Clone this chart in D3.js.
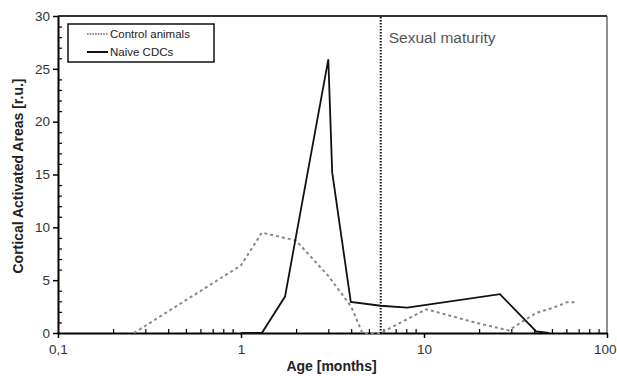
<!DOCTYPE html>
<html>
<head>
<meta charset="utf-8">
<script src="https://cdn.jsdelivr.net/npm/d3@7"></script>
<style>
  body { margin: 0; background: #fff; }
  svg { display: block; font-family: "Liberation Sans", Arial, sans-serif; }
</style>
</head>
<body>
<div id="chart"></div>
<script>
// series (age in months, value in r.u.)
const controlAge = [0.26, 1.0, 1.3, 2.0, 3.0, 4.0, 4.6, 5.8, 10.3, 19.4, 29, 41, 51, 60, 68];
const controlVal = [0, 6.4, 9.5, 8.75, 5.4, 2.5, 0, 0, 2.25, 0.95, 0.25, 1.9, 2.4, 2.9, 2.9];
const naiveAge = [1.0, 1.3, 1.74, 3.0, 3.15, 3.98, 5.8, 8.1, 26, 41, 48];
const naiveVal = [0, 0, 3.45, 25.9, 15.2, 2.95, 2.58, 2.4, 3.68, 0.15, 0];
const maturityAge = 5.8;

const xTicks = [0.1, 1, 10, 100];
const xTickLabels = ['0,1', '1', '10', '100'];
const yTicks = [0, 5, 10, 15, 20, 25, 30];
const seriesNames = ['Control animals', 'Naive CDCs'];

const W = 617, H = 376;
const margin = { top: 16, right: 10, bottom: 43, left: 58 };
const width = W - margin.left - margin.right;
const height = H - margin.top - margin.bottom;

const svg = d3.select('#chart').append('svg')
    .attr('width', W)
    .attr('height', H);

const g = svg.append('g')
    .attr('transform', `translate(${margin.left},${margin.top})`);

const x = d3.scaleLog().domain([0.1, 100]).range([0, width]);
const y = d3.scaleLinear().domain([0, 30]).range([height, 0]);

// frame: top + right
g.append('line').attr('x1', 0).attr('x2', width).attr('y1', 0).attr('y2', 0)
    .attr('stroke', '#333').attr('stroke-width', 2);
g.append('line').attr('x1', width).attr('x2', width).attr('y1', 0).attr('y2', height)
    .attr('stroke', '#444').attr('stroke-width', 1.2);

// minor ticks (inward)
const minorX = [];
for (let d = 0.1; d < 100; d *= 10) for (let k = 2; k <= 9; k++) minorX.push(d * k);
g.append('g')
    .attr('transform', `translate(0,${height})`)
    .call(d3.axisBottom(x).tickValues(minorX).tickSizeInner(-4).tickSizeOuter(0).tickFormat(''))
    .call(a => a.select('.domain').remove())
    .call(a => a.selectAll('line').attr('stroke', '#000').attr('stroke-width', 1.2));

const minorY = d3.range(0, 31).filter(v => v % 5 !== 0);
g.append('g')
    .call(d3.axisLeft(y).tickValues(minorY).tickSizeInner(-4).tickSizeOuter(0).tickFormat(''))
    .call(a => a.select('.domain').remove())
    .call(a => a.selectAll('line').attr('stroke', '#000').attr('stroke-width', 1.2));

// major axes
const xAxis = g.append('g')
    .attr('transform', `translate(0,${height})`)
    .call(d3.axisBottom(x).tickValues(xTicks).tickSizeInner(5).tickSizeOuter(0).tickPadding(6)
        .tickFormat((d, i) => xTickLabels[i]));
xAxis.select('.domain').attr('stroke', '#000').attr('stroke-width', 2);
xAxis.selectAll('line').attr('stroke', '#000').attr('stroke-width', 1.5);
xAxis.selectAll('text').attr('font-size', 13.5).attr('fill', '#333')
    .attr('font-family', '"Liberation Sans", Arial, sans-serif');
// last label would run past the page edge: pin it to the right
xAxis.selectAll('text').filter(d => d === 100)
    .attr('text-anchor', 'end').attr('x', W - margin.left - width - 1);

const yAxis = g.append('g')
    .call(d3.axisLeft(y).tickValues(yTicks).tickSizeInner(5).tickSizeOuter(0).tickPadding(3));
yAxis.select('.domain').attr('stroke', '#000').attr('stroke-width', 2);
yAxis.selectAll('line').attr('stroke', '#000').attr('stroke-width', 1.5);
yAxis.selectAll('text').attr('font-size', 13.5).attr('fill', '#333')
    .attr('font-family', '"Liberation Sans", Arial, sans-serif');

// sexual maturity marker
g.append('line')
    .attr('x1', x(maturityAge)).attr('x2', x(maturityAge))
    .attr('y1', 1).attr('y2', height)
    .attr('stroke', '#111').attr('stroke-width', 2)
    .attr('stroke-dasharray', '1.5,1.5');
g.append('text')
    .attr('x', x(maturityAge) + 8).attr('y', 26.5)
    .attr('font-size', 15.5).attr('fill', '#555')
    .text('Sexual maturity');

const line = d3.line().x(d => x(d[0])).y(d => y(d[1]));

g.append('path')
    .datum(controlAge.map((a, i) => [a, controlVal[i]]))
    .attr('d', line)
    .attr('fill', 'none')
    .attr('stroke', '#888')
    .attr('stroke-width', 2)
    .attr('stroke-dasharray', '3,3');

g.append('path')
    .datum(naiveAge.map((a, i) => [a, naiveVal[i]]))
    .attr('d', line)
    .attr('fill', 'none')
    .attr('stroke', '#111')
    .attr('stroke-width', 1.8)
    .attr('stroke-linejoin', 'miter');

// legend
const legend = g.append('g').attr('transform', 'translate(10,8)');
legend.append('rect')
    .attr('width', 146).attr('height', 38)
    .attr('fill', '#fff').attr('stroke', '#111').attr('stroke-width', 1.5);
const items = [
    { name: seriesNames[0], stroke: '#888', dash: '1.5,1.2', w: 2 },
    { name: seriesNames[1], stroke: '#111', dash: null, w: 2 }
];
items.forEach((it, i) => {
    const row = legend.append('g').attr('transform', `translate(0,${10 + i * 18})`);
    row.append('line')
        .attr('x1', 19).attr('x2', 40).attr('y1', 0).attr('y2', 0)
        .attr('stroke', it.stroke).attr('stroke-width', it.w)
        .attr('stroke-dasharray', it.dash);
    row.append('text')
        .attr('x', 42).attr('y', 0).attr('dy', '0.35em')
        .attr('font-size', 11.5).attr('fill', '#222')
        .text(it.name);
});

// axis titles
svg.append('text')
    .attr('x', margin.left + width / 2 - 1).attr('y', 371)
    .attr('text-anchor', 'middle')
    .attr('font-size', 14).attr('font-weight', 'bold').attr('fill', '#222')
    .text('Age [months]');
svg.append('text')
    .attr('transform', `translate(23,${176}) rotate(-90)`)
    .attr('text-anchor', 'middle')
    .attr('font-size', 14).attr('font-weight', 'bold').attr('fill', '#222')
    .text('Cortical Activated Areas [r.u.]');
</script>
</body>
</html>
